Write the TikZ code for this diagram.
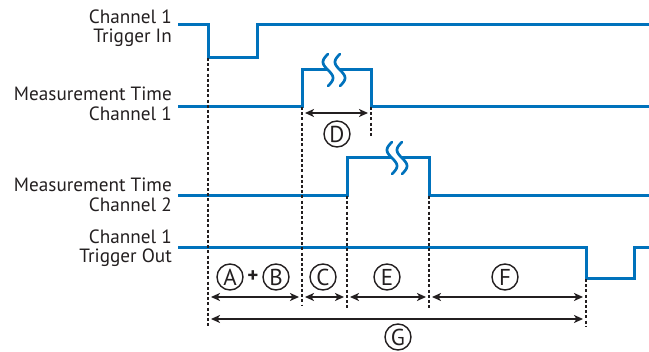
\documentclass[tikz,border=0pt]{standalone}
\usepackage{fontspec}
\setmainfont{PT Sans}
\usetikzlibrary{arrows.meta}
\definecolor{wave}{RGB}{0,114,188}
\definecolor{ink}{RGB}{35,31,32}
\newcommand\squig[2]{\draw[squigl] plot[domain=-16:16,samples=33,smooth] ({#1+5*sin(\x*180/16)},{#2+\x});}
\begin{document}
\begin{tikzpicture}[x=1pt,y=-1pt,
  wave/.style={draw=wave,line width=3pt},
  squigl/.style={draw=wave,line width=2.7pt,line cap=round},
  guide/.style={draw=ink,line width=1.5pt,dash pattern=on 3pt off 2.2pt},
  dim/.style={draw=ink,line width=1.6pt,shorten <=3pt,shorten >=3pt,
    {Stealth[length=9pt,width=8pt,inset=2.5pt]}-{Stealth[length=9pt,width=8pt,inset=2.5pt]}},
  lbl/.style={align=right,anchor=east,font=\fontsize{19.2}{19.5}\selectfont,text=ink,inner sep=0pt},
  tag/.style={circle,draw=ink,line width=1.4pt,minimum size=26pt,inner sep=0pt,font=\fontsize{23}{23}\selectfont,text=ink}]
\useasboundingbox (0,0) rectangle (649,352);
% labels
\node[lbl] (l1) at (172,28) {Channel 1\\Trigger In};
\node[lbl] (l2) at (172,104) {Measurement Time\\Channel 1};
\node[lbl] (l3) at (172,195) {Measurement Time\\Channel 2};
\node[lbl] (l4) at (172,248) {Channel 1\\Trigger Out};
% waveforms
\draw[wave] (178,25) -- (208,25) -- (208,58) -- (257,58) -- (257,25) -- (649,25);
\draw[wave] (178,107) -- (302,107) -- (302,70) -- (328,70);
\draw[wave] (340,70) -- (371,70) -- (371,107) -- (649,107);
\squig{328}{70}\squig{340}{70}
\draw[wave] (178,196) -- (347,196) -- (347,158) -- (392,158);
\draw[wave] (402,158) -- (429,158) -- (429,196) -- (649,196);
\squig{392}{158}\squig{402}{158}
\draw[wave] (178,248) -- (586,248) -- (586,279) -- (634,279) -- (634,248) -- (649,248);
% guide coordinates
\coordinate (t0) at (208,58);   \coordinate (t0b) at (208,327);
\coordinate (t1) at (302,107);  \coordinate (t1b) at (302,305);
\coordinate (t2) at (371,107);  \coordinate (t2b) at (371,136);
\coordinate (t3) at (347,196);  \coordinate (t3b) at (347,309);
\coordinate (t4) at (429,196);  \coordinate (t4b) at (429,309);
\coordinate (t5) at (586,279);  \coordinate (t5b) at (586,327);
\draw[guide] (t0) -- (t0b);
\draw[guide] (t1) -- (t1b);
\draw[guide] (t2) -- (t2b);
\draw[guide] (t3) -- (t3b);
\draw[guide] (t4) -- (t4b);
\draw[guide] (t5) -- (t5b);
% dimension endpoints
\coordinate (d1) at (302,113); \coordinate (d2) at (371,113);
\coordinate (r0) at (208,297); \coordinate (r1) at (302,297); \coordinate (r2) at (347,297);
\coordinate (r3) at (429,297); \coordinate (r4) at (586,297);
\coordinate (g0) at (208,319); \coordinate (g1) at (586,319);
\draw[dim] (d1) -- (d2);
\draw[dim] (r0) -- (r1);
\draw[dim] (r1) -- (r2);
\draw[dim] (r2) -- (r3);
\draw[dim] (r3) -- (r4);
\draw[dim] (g0) -- (g1);
% tags
\node[tag] (D) at (337,134) {D};
\node[tag] (A) at (230,277) {A};
\node[text=ink,inner sep=0pt,font=\bfseries\fontsize{21}{21}\selectfont] (plus) at (253,277) {+};
\node[tag] (B) at (276,277) {B};
\node[tag] (C) at (323,277) {C};
\node[tag] (E) at (387,277) {E};
\node[tag] (F) at (505,277) {F};
\node[tag] (G) at (398,337) {G};
\end{tikzpicture}
\end{document}
